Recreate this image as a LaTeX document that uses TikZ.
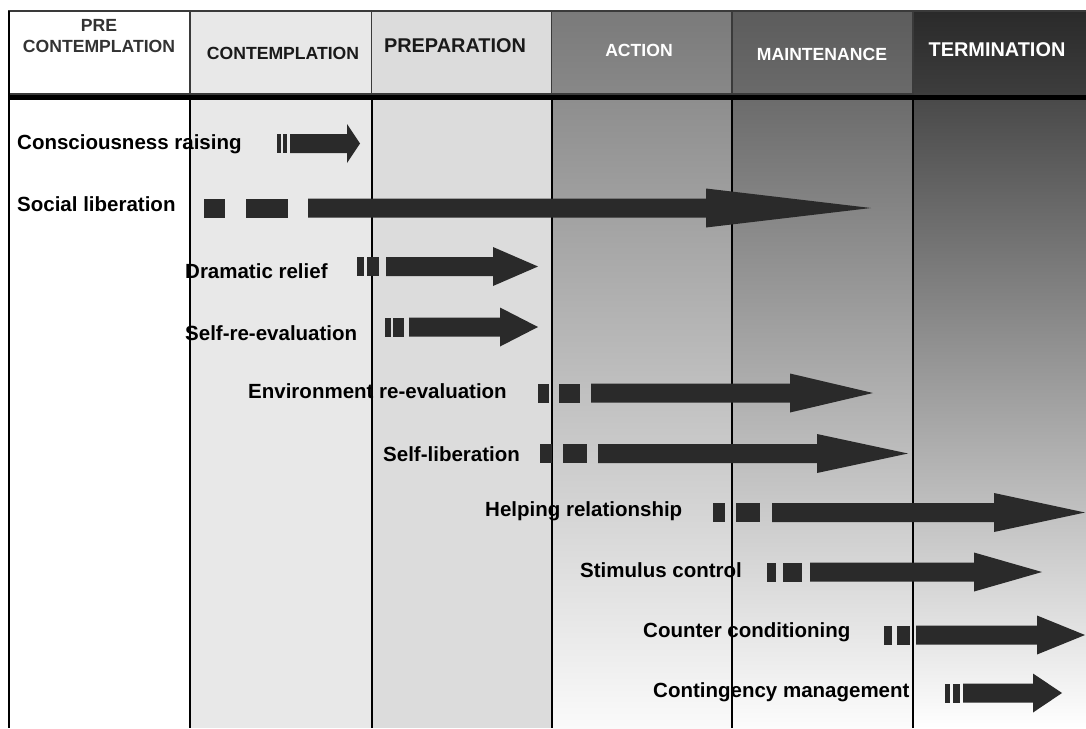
\documentclass[tikz,border=0pt]{standalone}
\usepackage{fontspec}
\setmainfont{Liberation Sans}
\definecolor{arrowgray}{HTML}{2A2A2A}
\definecolor{colB}{HTML}{E8E8E8}
\definecolor{colC}{HTML}{DCDCDC}
\definecolor{hdrline}{HTML}{3A3A3A}
\definecolor{pretext}{HTML}{333333}
\definecolor{darktext}{HTML}{1A1A1A}
\definecolor{actTop}{HTML}{8E8E8E}
\definecolor{actMid}{HTML}{D8D8D8}
\definecolor{actBot}{HTML}{FAFAFA}
\definecolor{mntTop}{HTML}{6C6C6C}
\definecolor{mntMid}{HTML}{D2D2D2}
\definecolor{mntBot}{HTML}{FCFCFC}
\definecolor{trmTop}{HTML}{4A4A4A}
\definecolor{trmMid}{HTML}{CCCCCC}
\definecolor{trmBot}{HTML}{FFFFFF}
\definecolor{hActT}{HTML}{7A7A7A}
\definecolor{hActB}{HTML}{888888}
\definecolor{hMntT}{HTML}{5C5C5C}
\definecolor{hMntB}{HTML}{6A6A6A}
\definecolor{hTrmT}{HTML}{2A2A2A}
\definecolor{hTrmB}{HTML}{3D3D3D}
\newcommand\procarrow[8]{%
  \fill[arrowfill] (#2,#1-9.5) rectangle (#3,#1+9.5);
  \fill[arrowfill] (#4,#1-9.5) rectangle (#5,#1+9.5);
  \fill[arrowfill] (#6,#1-9.5) -- (#7,#1-9.5) -- (#7,#1-19.5) -- (#8,#1)
     -- (#7,#1+19.5) -- (#7,#1+9.5) -- (#6,#1+9.5) -- cycle;}
\begin{document}
\begin{tikzpicture}[x=1pt,y=-1pt,
  arrowfill/.style={fill=arrowgray},
  hdrcell/.style={draw=hdrline,line width=1.5pt},
  hdrtext/.style={font=\fontsize{17.6}{21.5}\selectfont\bfseries,inner sep=0pt,align=center},
  hdrbig/.style={font=\fontsize{19.9}{24}\selectfont\bfseries,inner sep=0pt,align=center},
  lbl/.style={font=\fontsize{20.5}{24}\selectfont\bfseries,inner sep=0pt,anchor=base west,text=black},
  colline/.style={draw=black,line width=2pt}]
\useasboundingbox (0,0) rectangle (1086,728);
\fill[white] (0,0) rectangle (1086,728);
% body backgrounds
\fill[colB] (190,99.5) rectangle (371.5,728);
\fill[colC] (371.5,99.5) rectangle (551.5,728);
\fill[top color=actTop,middle color=actMid,bottom color=actBot] (551.5,99.5) rectangle (732,728);
\fill[top color=mntTop,middle color=mntMid,bottom color=mntBot] (732,99.5) rectangle (913,728);
\fill[top color=trmTop,middle color=trmMid,bottom color=trmBot] (913,99.5) rectangle (1086,728);
% header cells
\filldraw[hdrcell,fill=white] (9,11) rectangle (190,94);
\filldraw[hdrcell,fill=colB] (190,11) rectangle (371.5,94);
\filldraw[hdrcell,fill=colC] (371.5,11) rectangle (551.5,94);
\shade[top color=hActT,bottom color=hActB] (551.5,11) rectangle (732,94);
\shade[top color=hMntT,bottom color=hMntB] (732,11) rectangle (913,94);
\shade[top color=hTrmT,bottom color=hTrmB] (913,11) rectangle (1086,94);
\draw[hdrline,line width=1.5pt] (551.5,11) rectangle (732,94) (732,11) rectangle (913,94) (913,11) -- (1087,11);
% header texts
\node[hdrtext,text=pretext] (hpre) at (99,36) {PRE\\CONTEMPLATION};
\node[hdrtext,text=darktext] (hcon) at (283,53) {CONTEMPLATION};
\node[hdrbig,text=darktext] (hprep) at (455,46) {PREPARATION};
\node[hdrtext,text=white] (hact) at (639,50) {ACTION};
\node[hdrtext,text=white] (hmnt) at (822,54) {MAINTENANCE};
\node[hdrbig,text=white] (htrm) at (997,49.5) {TERMINATION};
% thick separator
\fill[black] (8,94.5) rectangle (1086,99.5);
% body column lines
\draw[colline] (9,11) -- (9,728);
\foreach \cx in {190,371.5,551.5,732,913} \draw[colline] (\cx,97) -- (\cx,728);
% labels
\node[lbl] (l1) at (17,149) {Consciousness raising};
\node[lbl] (l2) at (17,211) {Social liberation};
\node[lbl] (l3) at (185,278) {Dramatic relief};
\node[lbl] (l4) at (185,340) {Self-re-evaluation};
\node[lbl] (l5) at (248,398) {Environment re-evaluation};
\node[lbl] (l6) at (383,461) {Self-liberation};
\node[lbl] (l7) at (485,516) {Helping relationship};
\node[lbl] (l8) at (580,577) {Stimulus control};
\node[lbl] (l9) at (643,637) {Counter conditioning};
\node[lbl] (l10) at (653,697) {Contingency management};
% arrows
\procarrow{143.5}{277}{281}{283}{287}{290}{347}{360}
\procarrow{208}{204}{225}{246}{288}{308}{706}{871}
\procarrow{266.5}{357}{364}{367}{379}{386}{493}{538}
\procarrow{327}{385}{391}{393}{404}{409}{500}{538}
\procarrow{393}{538}{549}{559}{580}{591}{790}{873}
\procarrow{453.5}{540}{552}{563}{587}{598}{817}{908}
\procarrow{512.5}{713}{725}{736}{760}{772}{994}{1085}
\procarrow{572}{767}{776}{783}{802}{810}{974}{1042}
\procarrow{635}{884}{892}{897}{910}{916}{1037}{1085}
\procarrow{693}{945}{950}{953}{960}{963}{1033}{1062}
\end{tikzpicture}
\end{document}
